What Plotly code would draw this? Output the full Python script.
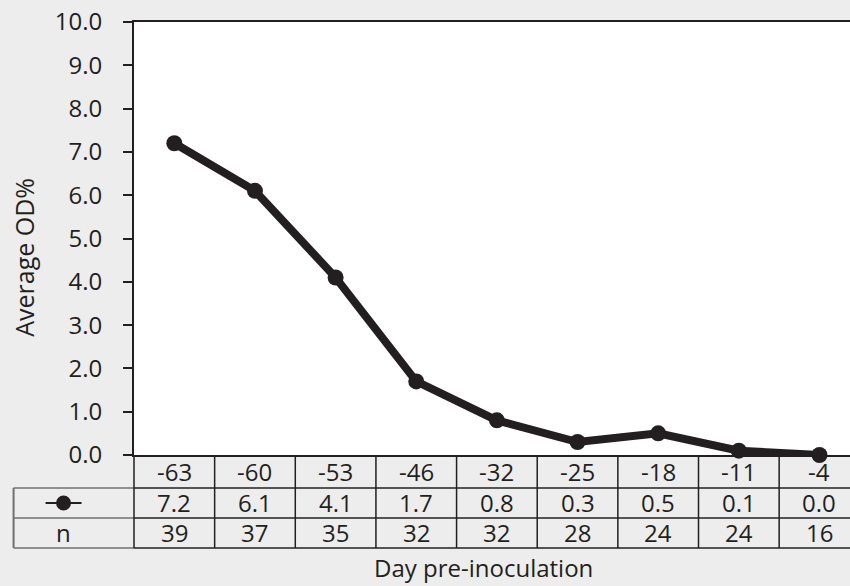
import plotly.graph_objects as go

# ---- data ----
days = ["-63", "-60", "-53", "-46", "-32", "-25", "-18", "-11", "-4"]
avg_od = [7.2, 6.1, 4.1, 1.7, 0.8, 0.3, 0.5, 0.1, 0.0]
n_counts = [39, 37, 35, 32, 32, 28, 24, 24, 16]
y_ticks = [0, 1, 2, 3, 4, 5, 6, 7, 8, 9, 10]

# ---- layout constants ----
W, H = 850, 586
ML, MR, MT, MB = 133.5, 0, 21.5, 131
PW = W - ML - MR
PH = H - MT - MB
COL_W = 80.7
XMAX = PW / COL_W
INK = "#231f20"
GRAY = "#707070"
BG = "#ededed"
FONT = "Open Sans"
FS = 24

def px_x(px):
    return (px - ML) / PW

def px_y(py):
    return (H - MB - py) / PH

x_pos = [i + 0.5 for i in range(len(days))]

fig = go.Figure()
fig.add_trace(go.Scatter(
    x=x_pos, y=avg_od, mode="lines+markers",
    line=dict(color=INK, width=8),
    marker=dict(size=16, color=INK),
    cliponaxis=False, showlegend=False, hoverinfo="skip"))

# table geometry (pixel rows)
row_top = H - MB            # 455
row_edges = [row_top, 488, 518, 548]
left_px = 13

shapes = []
line_style = dict(color=INK, width=1.5)
# horizontal table lines
for py in row_edges[1:]:
    shapes.append(dict(type="line", xref="paper", yref="paper",
                       x0=px_x(left_px), x1=0, y0=px_y(py), y1=px_y(py),
                       line=dict(color=GRAY, width=1.5)))
    shapes.append(dict(type="line", xref="paper", yref="paper",
                       x0=0, x1=1, y0=px_y(py), y1=px_y(py),
                       line=line_style))
# vertical column lines
for i in range(0, len(days)):
    xp = i / XMAX
    if xp > 1:
        continue
    shapes.append(dict(type="line", xref="paper", yref="paper",
                       x0=xp, x1=xp, y0=px_y(row_edges[0]), y1=px_y(row_edges[-1]),
                       line=line_style))
# left border of table rows 2-3
shapes.append(dict(type="line", xref="paper", yref="paper",
                   x0=px_x(left_px), x1=px_x(left_px),
                   y0=px_y(row_edges[1]), y1=px_y(row_edges[-1]),
                   line=dict(color=GRAY, width=2)))
# legend glyph
ly = (row_edges[1] + row_edges[2]) / 2
shapes.append(dict(type="line", xref="paper", yref="paper",
                   x0=px_x(45), x1=px_x(81), y0=px_y(ly), y1=px_y(ly),
                   line=dict(color=INK, width=2)))
r = 7.5
shapes.append(dict(type="circle", xref="paper", yref="paper",
                   x0=px_x(63 - r), x1=px_x(63 + r), y0=px_y(ly + r), y1=px_y(ly - r),
                   fillcolor=INK, line=dict(color=INK, width=0)))

annotations = []
row_centers = [(row_edges[k] + row_edges[k + 1]) / 2 for k in range(3)]
rows_text = [days, [f"{v:.1f}" for v in avg_od], [str(v) for v in n_counts]]
for k, texts in enumerate(rows_text):
    for xi, t in zip(x_pos, texts):
        annotations.append(dict(x=xi, y=px_y(row_centers[k]), xref="x", yref="paper",
                                text=t, showarrow=False, xanchor="center", yanchor="middle",
                                font=dict(family=FONT, size=FS, color=INK)))
annotations.append(dict(x=px_x(63), y=px_y(row_centers[2]), xref="paper", yref="paper",
                        text="n", showarrow=False, xanchor="center", yanchor="middle",
                        font=dict(family=FONT, size=FS, color=INK)))
# axis titles
annotations.append(dict(x=px_x(24), y=px_y(257), xref="paper", yref="paper",
                        text="Average OD%", textangle=-90, showarrow=False,
                        xanchor="center", yanchor="middle",
                        font=dict(family=FONT, size=25, color=INK)))
annotations.append(dict(x=px_x(483.5), y=px_y(585), xref="paper", yref="paper",
                        text="Day pre-inoculation", showarrow=False,
                        xanchor="center", yanchor="bottom", borderpad=0,
                        font=dict(family=FONT, size=FS, color=INK)))

fig.update_layout(
    width=W, height=H,
    margin=dict(l=ML, r=MR, t=MT, b=MB, pad=0),
    paper_bgcolor=BG, plot_bgcolor="white",
    font=dict(family=FONT, size=FS, color=INK),
    shapes=shapes, annotations=annotations,
    xaxis=dict(range=[0, XMAX], showticklabels=False, ticks="", showgrid=False,
               zeroline=False, showline=True, mirror=True, linecolor=INK, linewidth=2,
               fixedrange=True),
    yaxis=dict(range=[0, 10], tickvals=y_ticks, tickformat=".1f", ticks="outside",
               ticklen=9, tickwidth=1.5, tickcolor=INK, showgrid=False, zeroline=False,
               showline=True, linecolor=INK, linewidth=2, ticklabelstandoff=16,
               tickfont=dict(family=FONT, size=FS, color=INK), fixedrange=True),
)

fig.write_html("out.html", config={"displayModeBar": False},
               post_script="document.body.style.margin='0px';document.body.style.overflow='hidden';")
